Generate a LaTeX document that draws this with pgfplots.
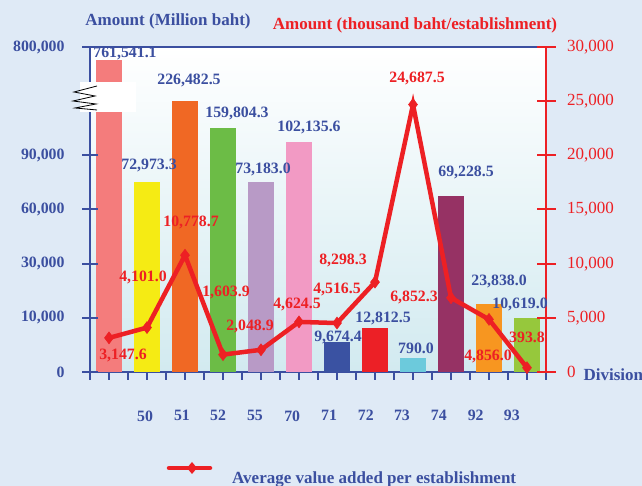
\documentclass[border=0pt]{standalone}
\usepackage{pgfplots}
\pgfplotsset{compat=1.18}
\usepackage{fontspec}
\setmainfont{Liberation Serif}

\definecolor{bgblue}{RGB}{223,234,246}
\definecolor{txtblue}{RGB}{59,79,160}
\definecolor{lred}{RGB}{237,32,36}
\definecolor{plotbot}{RGB}{210,234,240}
\definecolor{c1}{RGB}{244,124,124}
\definecolor{c2}{RGB}{245,235,20}
\definecolor{c3}{RGB}{240,104,36}
\definecolor{c4}{RGB}{108,188,70}
\definecolor{c5}{RGB}{184,154,198}
\definecolor{c6}{RGB}{242,154,196}
\definecolor{c7}{RGB}{58,82,162}
\definecolor{c8}{RGB}{236,32,38}
\definecolor{c9}{RGB}{108,202,220}
\definecolor{c10}{RGB}{150,50,100}
\definecolor{c11}{RGB}{247,150,32}
\definecolor{c12}{RGB}{150,200,60}

\newcommand{\lbl}{\fontsize{15.8}{17}\selectfont\bfseries}
\newcommand{\ttl}{\fontsize{17}{19}\selectfont\bfseries}
\newcommand{\lblr}{\fontsize{17}{19}\selectfont}

\pgfplotsset{
  frame/.style={at={(90pt,114pt)}, anchor=south west,
    scale only axis, width=456pt, height=325pt,
    xmin=-0.5, xmax=11.5, ymin=0, ymax=30000, scaled y ticks=false},
}

\begin{document}
\begin{tikzpicture}
\fill[bgblue] (0,0) rectangle (642pt,486pt);
\useasboundingbox (0,0) rectangle (642pt,486pt);

% bars: heights are drawn on the chart's broken left scale
% (0 / 10,000 / 30,000 / 60,000 / 90,000 / break / 800,000 at equal steps)
\begin{axis}[
  frame,
  ybar, bar width=26pt, bar shift=0pt,
  axis background/.style={top color=white, bottom color=plotbot},
  axis line style={txtblue, line width=2.5pt},
  ytick=\empty, xtick pos=bottom,
  tick align=outside, major tick length=8pt,
  xtick={-0.5,0,...,11.5}, xticklabels={},
  x tick style={txtblue, line width=2pt},
  extra x ticks={0.95,1.92,2.87,3.84,4.82,5.79,6.76,7.71,8.68,9.65,10.6},
  extra x tick labels={50,51,52,55,70,71,72,73,74,92,93},
  extra x tick style={major tick length=0pt,
    xticklabel style={txtblue, font=\lbl, yshift=-35pt}},
]
\addplot[fill=c1, draw=none] coordinates {(0,28800)};
\addplot[fill=c2, draw=none] coordinates {(1,17538)};
\addplot[fill=c3, draw=none] coordinates {(2,25015)};
\addplot[fill=c4, draw=none] coordinates {(3,22523)};
\addplot[fill=c5, draw=none] coordinates {(4,17538)};
\addplot[fill=c6, draw=none] coordinates {(5,21231)};
\addplot[fill=c7, draw=none] coordinates {(6,2769)};
\addplot[fill=c8, draw=none] coordinates {(7,4062)};
\addplot[fill=c9, draw=none] coordinates {(8,1292)};
\addplot[fill=c10, draw=none] coordinates {(9,16246)};
\addplot[fill=c11, draw=none] coordinates {(10,6277)};
\addplot[fill=c12, draw=none] coordinates {(11,4985)};
\end{axis}

% left scale (Million baht), ticks across the axis
\begin{axis}[
  frame,
  axis x line=none, axis y line*=left,
  y axis line style={txtblue, line width=2.5pt, -},
  ytick={0,5000,10000,15000,20000,30000},
  yticklabels={0,{10,000},{30,000},{60,000},{90,000},{800,000}},
  tick align=center, major tick length=16pt,
  y tick style={txtblue, line width=2pt},
  yticklabel style={txtblue, font=\lbl, xshift=-14pt},
]
\end{axis}

% line: thousand baht per establishment, right scale
\begin{axis}[
  frame,
  axis x line=none, axis y line*=right,
  y axis line style={lred, line width=2.5pt, -},
  ytick={0,5000,...,30000},
  yticklabels={0,{5,000},{10,000},{15,000},{20,000},{25,000},{30,000}},
  tick align=center, major tick length=19pt,
  y tick style={lred, line width=2pt},
  yticklabel style={lred, font=\lblr, xshift=8pt},
]
\addplot[lred, line width=4.5pt, mark=diamond*, mark size=6pt,
  mark options={line width=0.5pt}] coordinates {
  (0,3147.6) (1,4101.0) (2,10778.7) (3,1603.9) (4,2048.9) (5,4624.5)
  (6,4516.5) (7,8298.3) (8,24687.5) (9,6852.3) (10,4856.0) (11,393.8)
};
\end{axis}

% axis break on the left scale
\fill[white] (80pt,374pt) rectangle (136pt,404pt);
\draw[black, line width=0.8pt] (97pt,400pt) -- (74pt,394pt) -- (95pt,390pt)
  -- (73pt,385pt) -- (96pt,382pt) -- (75pt,378pt) -- (97pt,376pt);

% titles
\node[txtblue, font=\ttl] at (168pt,465pt) {Amount (Million baht)};
\node[lred, font=\ttl] at (415pt,461pt) {Amount (thousand baht/establishment)};
\node[txtblue, font=\ttl, anchor=west] at (580pt,111pt) {Division};

% bar value labels
\begin{scope}[every node/.style={txtblue, font=\lbl, inner sep=0pt}]
\node at (125pt,432pt) {761,541.1};
\node at (149pt,320pt) {72,973.3};
\node at (189pt,406pt) {226,482.5};
\node at (237pt,373pt) {159,804.3};
\node at (263pt,317pt) {73,183.0};
\node at (309pt,359pt) {102,135.6};
\node at (338pt,149pt) {9,674.4};
\node at (383pt,168pt) {12,812.5};
\node at (416pt,138pt) {790.0};
\node at (466pt,314pt) {69,228.5};
\node at (499pt,205pt) {23,838.0};
\node at (520pt,182pt) {10,619.0};
\end{scope}

% line value labels
\begin{scope}[every node/.style={lred, font=\lbl, inner sep=0pt}]
\node at (123pt,131pt) {3,147.6};
\node at (143pt,209pt) {4,101.0};
\node at (191pt,264pt) {10,778.7};
\node at (226pt,194pt) {1,603.9};
\node at (250pt,160pt) {2,048.9};
\node at (297pt,182pt) {4,624.5};
\node at (337pt,197pt) {4,516.5};
\node at (343pt,226pt) {8,298.3};
\node at (417pt,408pt) {24,687.5};
\node at (414pt,189pt) {6,852.3};
\node at (488pt,130pt) {4,856.0};
\node at (527pt,149pt) {393.8};
\end{scope}

% legend
\draw[lred, line width=4.5pt, line cap=round] (169pt,18pt) -- (210pt,18pt);
\fill[lred] (192pt,24pt) -- (197pt,18pt) -- (192pt,12pt) -- (187pt,18pt) -- cycle;
\node[txtblue, font=\ttl, anchor=west, inner sep=0pt] at (232pt,7pt)
  {Average value added per establishment};
\end{tikzpicture}
\end{document}
